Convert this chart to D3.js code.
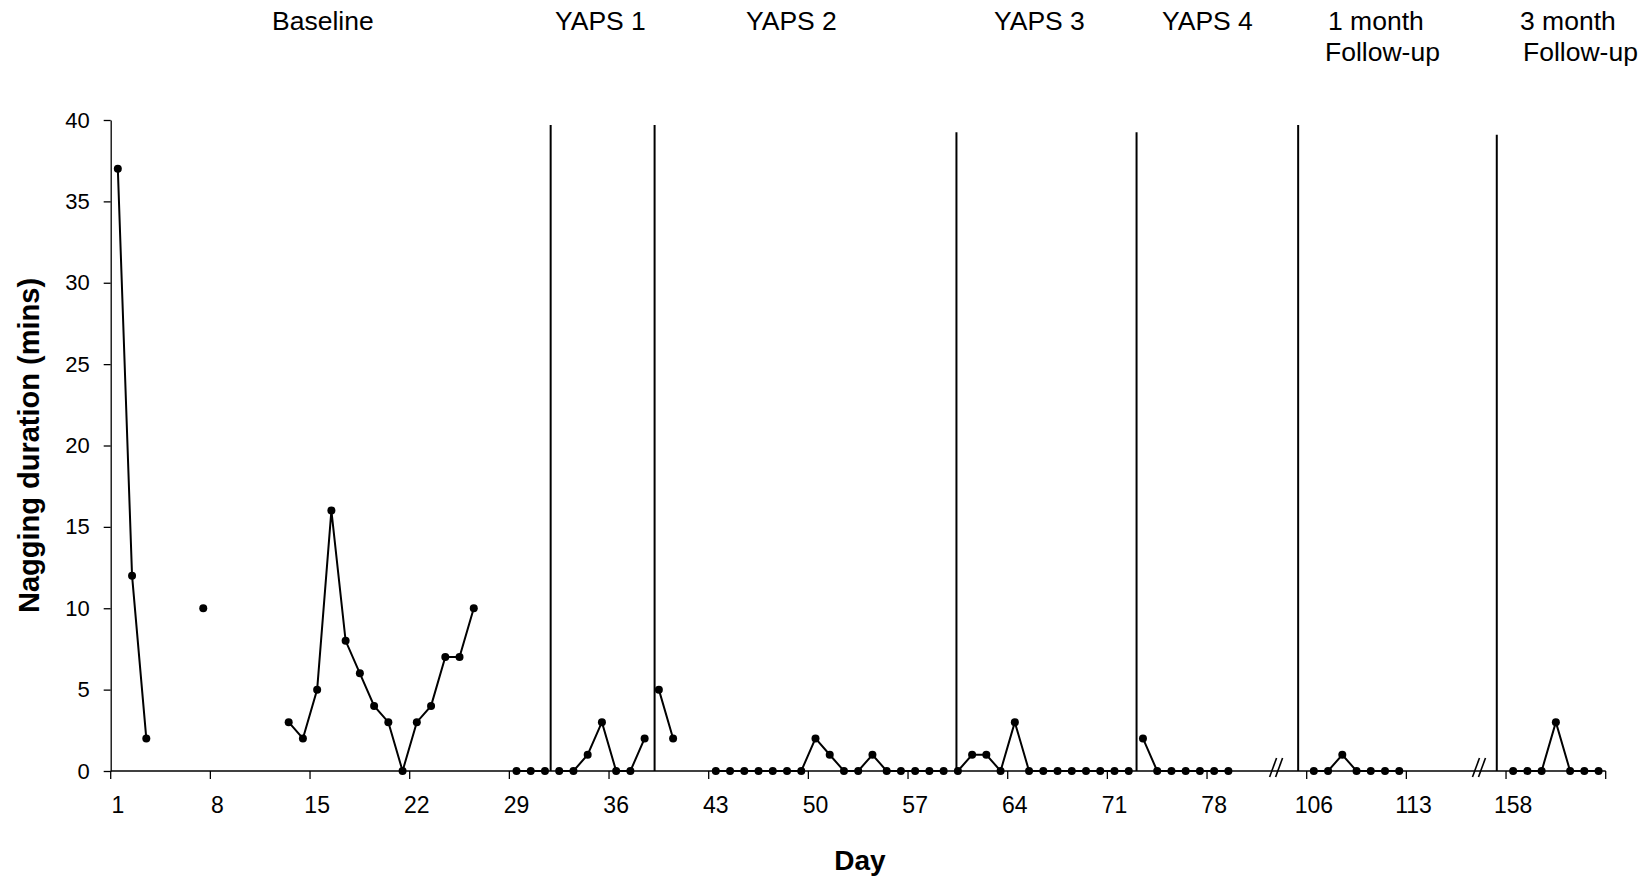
<!DOCTYPE html>
<html>
<head>
<meta charset="utf-8">
<script src="https://cdn.jsdelivr.net/npm/d3@7/dist/d3.min.js"></script>
<style>
  html, body { margin: 0; padding: 0; background: #ffffff; }
  svg { display: block; font-family: "Liberation Sans", Arial, sans-serif; }
</style>
</head>
<body>
<svg id="chart" width="1652" height="882"></svg>
<script>
// ---------------- DATA ----------------
// Nagging duration (mins) per day, by phase (null = no observation)
const baselineStartDay = 1;
const baselineValues = [37, 12, 2, null, null, null, 10, null, null, null, null, null,
  3, 2, 5, 16, 8, 6, 4, 3, 0, 3, 4, 7, 7, 10, null, null, 0, 0, 0];           // days 1–31
const yaps1StartDay = 32;
const yaps1Values = [0, 0, 1, 3, 0, 0, 2];                                      // days 32–38
const yaps2StartDay = 39;
const yaps2Values = [5, 2, null, null, 0, 0, 0, 0, 0, 0, 0, 2, 1, 0, 0, 1, 0, 0, 0, 0, 0]; // days 39–59
const yaps3StartDay = 60;
const yaps3Values = [0, 1, 1, 0, 3, 0, 0, 0, 0, 0, 0, 0, 0];                    // days 60–72
const yaps4StartDay = 73;
const yaps4Values = [2, 0, 0, 0, 0, 0, 0];                                      // days 73–79
const followUp1StartDay = 106;
const followUp1Values = [0, 0, 1, 0, 0, 0, 0];                                  // days 106–112
const followUp3StartDay = 158;
const followUp3Values = [0, 0, 0, 3, 0, 0, 0];                                  // days 158–164

const phaseNames = ["Baseline", "YAPS 1", "YAPS 2", "YAPS 3", "YAPS 4", "1 month\nFollow-up", "3 month\nFollow-up"];

// x axis: shown day categories (with two breaks)
const dayBlock1 = d3.range(1, 85);
const dayBlock2 = d3.range(106, 120);
const dayBlock3 = d3.range(158, 165);
const xTickLabels = [1, 8, 15, 22, 29, 36, 43, 50, 57, 64, 71, 78, 106, 113, 158];
const yTickValues = [0, 5, 10, 15, 20, 25, 30, 35, 40];

// ---------------- LAYOUT ----------------
const W = 1652, H = 882;
const plot = { left: 110.7, right: 1605.7, top: 120, bottom: 771 };
// phase change lines (position in category slots) and their top (value units)
const phaseLineSlots = [30.9, 38.2, 59.4, 72.05, 83.4, 97.35];
const phaseLineTops = [39.7, 39.7, 39.25, 39.25, 39.7, 39.1];
const breakSlots = [81.85, 96.1];
const labelLayout = [
  { x: [272], lines: [29.5] },
  { x: [555], lines: [29.5] },
  { x: [746], lines: [29.5] },
  { x: [994], lines: [29.5] },
  { x: [1162], lines: [29.5] },
  { x: [1328, 1325], lines: [29.5, 61] },
  { x: [1520, 1523], lines: [29.5, 61] }
];

// ---------------- DRAW ----------------
const svg = d3.select("#chart");
svg.append("rect").attr("width", W).attr("height", H).attr("fill", "#fff");

const domainDays = dayBlock1.concat(dayBlock2, dayBlock3);
const x = d3.scaleBand().domain(domainDays).range([plot.left, plot.right]).paddingInner(0).paddingOuter(0);
const slot = d3.scaleLinear().domain([0, domainDays.length]).range([plot.left, plot.right]);
const y = d3.scaleLinear().domain([0, 40]).range([plot.bottom, plot.top]);
const cx = d => x(d) + x.bandwidth() / 2;

// Y axis
const yAxis = svg.append("g")
  .attr("transform", `translate(${plot.left},0)`)
  .call(d3.axisLeft(y).tickValues(yTickValues).tickSize(7).tickPadding(14).tickSizeOuter(0));
yAxis.select(".domain").attr("stroke", "#000").attr("stroke-width", 1.3);
yAxis.selectAll(".tick line").attr("stroke", "#000").attr("stroke-width", 1.3);
yAxis.selectAll(".tick text").attr("font-size", 22).attr("fill", "#000")
  .attr("font-family", "'Liberation Sans', Arial, sans-serif");

// X axis: labels at category centres, ticks at category boundaries
const xAxis = svg.append("g")
  .attr("transform", `translate(0,${plot.bottom})`)
  .call(d3.axisBottom(x).tickValues(xTickLabels).tickSize(0).tickPadding(26).tickSizeOuter(0));
xAxis.select(".domain").remove();
xAxis.selectAll(".tick text").attr("font-size", 23).attr("fill", "#000")
  .attr("font-family", "'Liberation Sans', Arial, sans-serif");
svg.append("line")
  .attr("x1", plot.left).attr("x2", plot.right)
  .attr("y1", plot.bottom).attr("y2", plot.bottom)
  .attr("stroke", "#000").attr("stroke-width", 1.3);
const boundaryTicks = d3.range(0, domainDays.length + 1, 7);
svg.append("g").selectAll("line").data(boundaryTicks).join("line")
  .attr("x1", d => slot(d)).attr("x2", d => slot(d))
  .attr("y1", plot.bottom).attr("y2", plot.bottom + 8)
  .attr("stroke", "#000").attr("stroke-width", 1.3);

// axis breaks "//"
const br = svg.append("g");
breakSlots.forEach(s => {
  const bx = slot(s);
  [-3, 3].forEach(o => {
    br.append("line")
      .attr("x1", bx + o - 3.5).attr("y1", plot.bottom + 6)
      .attr("x2", bx + o + 3.5).attr("y2", plot.bottom - 13)
      .attr("stroke", "#000").attr("stroke-width", 1.6);
  });
});

// Phase change lines
svg.append("g").selectAll("line").data(phaseLineSlots).join("line")
  .attr("x1", d => slot(d)).attr("x2", d => slot(d))
  .attr("y1", (d, i) => y(phaseLineTops[i])).attr("y2", plot.bottom)
  .attr("stroke", "#000").attr("stroke-width", 2);

// Series
const phases = [
  [baselineStartDay, baselineValues],
  [yaps1StartDay, yaps1Values],
  [yaps2StartDay, yaps2Values],
  [yaps3StartDay, yaps3Values],
  [yaps4StartDay, yaps4Values],
  [followUp1StartDay, followUp1Values],
  [followUp3StartDay, followUp3Values]
].map(([start, vals]) => vals.map((v, i) => ({ day: start + i, v })));

const line = d3.line().defined(d => d.v !== null).x(d => cx(d.day)).y(d => y(d.v));
const series = svg.append("g");
phases.forEach(p => {
  series.append("path").datum(p).attr("d", line)
    .attr("fill", "none").attr("stroke", "#000").attr("stroke-width", 2);
  series.append("g").selectAll("circle").data(p.filter(d => d.v !== null)).join("circle")
    .attr("cx", d => cx(d.day)).attr("cy", d => y(d.v)).attr("r", 4).attr("fill", "#000");
});

// Phase labels
const lab = svg.append("g").attr("font-size", 26.5).attr("fill", "#000");
phaseNames.forEach((name, i) => {
  const parts = name.split("\n");
  const L = labelLayout[i];
  parts.forEach((t, j) => {
    lab.append("text")
      .attr("x", L.x[j])
      .attr("y", L.lines[j])
      .text(t);
  });
});

// Axis titles
svg.append("text")
  .attr("transform", `translate(39,${(plot.top + plot.bottom) / 2}) rotate(-90)`)
  .attr("text-anchor", "middle").attr("font-weight", "bold").attr("font-size", 29)
  .text("Nagging duration (mins)");
svg.append("text")
  .attr("x", 860).attr("y", 870)
  .attr("text-anchor", "middle").attr("font-weight", "bold").attr("font-size", 28)
  .text("Day");
</script>
</body>
</html>
